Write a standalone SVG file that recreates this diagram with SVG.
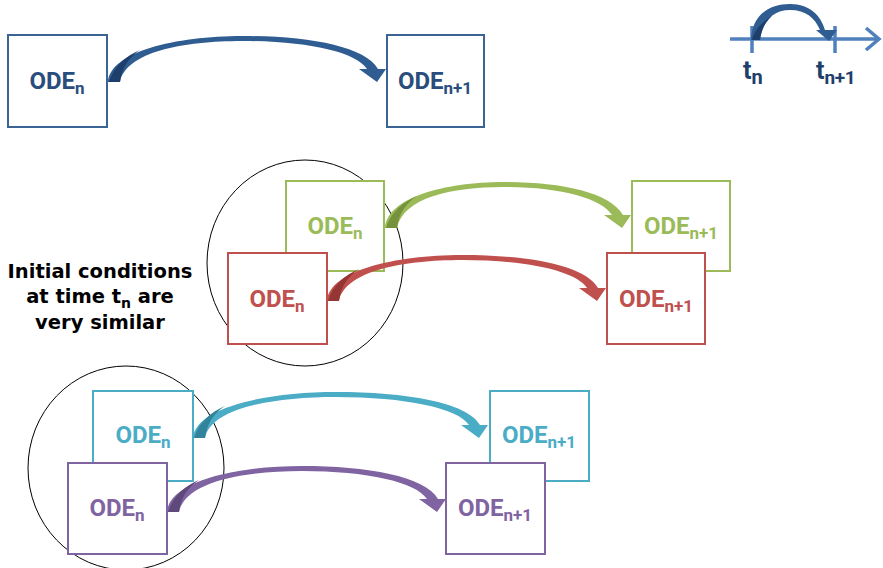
<svg xmlns="http://www.w3.org/2000/svg" width="883" height="568" viewBox="0 0 883 568">
  <style>
    .box { fill: #ffffff; stroke-width: 2; }
    .lbl { font-family: Roboto, "Liberation Sans", sans-serif; font-weight: bold; font-size: 24px; text-anchor: middle; }
    .sub { font-size: 17px; }
    .ring { fill: none; stroke: #000000; stroke-width: 1; }
    .note { font-family: "DejaVu Sans", "Liberation Sans", sans-serif; font-weight: bold; font-size: 19.5px; fill: #000000; text-anchor: middle; }
    .blue { stroke: #3b6394; }
    .blue-t { fill: #294d7c; }
    .green { stroke: #9bbb59; }
    .green-t { fill: #9bbb59; }
    .red { stroke: #c0504d; }
    .red-t { fill: #c0504d; }
    .cyan { stroke: #4bacc6; }
    .cyan-t { fill: #4bacc6; }
    .purple { stroke: #8064a2; }
    .purple-t { fill: #8064a2; }
    .axis { stroke: #4f81bd; stroke-width: 3.5; fill: none; }
    .tick { font-family: Roboto, "Liberation Sans", sans-serif; font-weight: bold; fill: #1f3f6b; }
  </style>

  <!-- time axis icon -->
  <g id="time-axis">
    <line class="axis" x1="730" y1="39" x2="879" y2="39"/>
    <polyline class="axis" points="866,28 879,39 866,50"/>
    <line class="axis" x1="752" y1="26" x2="752" y2="53"/>
    <line class="axis" x1="835" y1="26" x2="835" y2="53"/>
    <path d="M751,40 C752,14 770,4 790,4 C810,4 821,16 825,30 L837,30 L829,41 L816,30 L820,30 C815,18 806,10 790,10 C774,10 763,20 760,40 Z" fill="#2f5c91"/>
    <path d="M752,40 L760,40 C761,30 765,22 772,16 C762,22 754,30 752,40 Z" fill="#1e3f6b"/>
    <text class="tick" x="743" y="79" font-size="25">t<tspan font-size="20" dy="5">n</tspan></text>
    <text class="tick" x="816" y="79" font-size="25">t<tspan font-size="19" dy="5" letter-spacing="-0.3">n+1</tspan></text>
  </g>

  <!-- annotation -->
  <g id="note">
    <text class="note" x="100" y="278">Initial conditions</text>
    <text class="note" x="100" y="303">at time t<tspan font-size="14" dy="5">n</tspan><tspan dy="-5"> are</tspan></text>
    <text class="note" x="100" y="329">very similar</text>
  </g>

  <!-- grouping rings -->
  <g id="rings">
    <ellipse class="ring" cx="305" cy="263" rx="98" ry="103"/>
    <ellipse class="ring" cx="126" cy="468" rx="98" ry="102"/>
  </g>

  <!-- top pair -->
  <g id="ode-n-blue">
    <rect class="box blue" x="8" y="35" width="99" height="92"/>
    <text class="lbl blue-t" x="57" y="89">ODE<tspan class="sub" dy="5">n</tspan></text>
  </g>
  <g id="ode-n1-blue">
    <rect class="box blue" x="387" y="35" width="97" height="92"/>
    <text class="lbl blue-t" x="435" y="89">ODE<tspan class="sub" dy="5">n+1</tspan></text>
  </g>

  <!-- middle pairs -->
  <g id="ode-n-green">
    <rect class="box green" x="286" y="181" width="98" height="90"/>
    <text class="lbl green-t" x="335" y="234">ODE<tspan class="sub" dy="5">n</tspan></text>
  </g>
  <g id="ode-n1-green">
    <rect class="box green" x="632" y="181" width="98" height="90"/>
    <text class="lbl green-t" x="681" y="234">ODE<tspan class="sub" dy="5">n+1</tspan></text>
  </g>
  <g id="ode-n-red">
    <rect class="box red" x="228" y="253" width="99" height="91"/>
    <text class="lbl red-t" x="277" y="307">ODE<tspan class="sub" dy="5">n</tspan></text>
  </g>
  <g id="ode-n1-red">
    <rect class="box red" x="607" y="253" width="98" height="91"/>
    <text class="lbl red-t" x="656" y="307">ODE<tspan class="sub" dy="5">n+1</tspan></text>
  </g>

  <!-- bottom pairs -->
  <g id="ode-n-cyan">
    <rect class="box cyan" x="93" y="391" width="100" height="90"/>
    <text class="lbl cyan-t" x="143" y="443">ODE<tspan class="sub" dy="5">n</tspan></text>
  </g>
  <g id="ode-n1-cyan">
    <rect class="box cyan" x="490" y="391" width="99" height="90"/>
    <text class="lbl cyan-t" x="539" y="443">ODE<tspan class="sub" dy="5">n+1</tspan></text>
  </g>
  <g id="ode-n-purple">
    <rect class="box purple" x="68" y="463" width="99" height="91"/>
    <text class="lbl purple-t" x="117" y="516">ODE<tspan class="sub" dy="5">n</tspan></text>
  </g>
  <g id="ode-n1-purple">
    <rect class="box purple" x="446" y="463" width="99" height="91"/>
    <text class="lbl purple-t" x="495" y="516">ODE<tspan class="sub" dy="5">n+1</tspan></text>
  </g>

  <!-- curved block arrows: origin at the base on the source box, tip at (W,0) -->
  <g id="connectors">
    <g transform="translate(108,82)">
      <path fill="#2f5c91" d="M0,0 C2,-30 67,-46 134.5,-46 C199,-46 257,-36 270,-13 L278,-13 L269,0 L251,-13 L259,-13 C248,-30 199,-41 134.5,-41 C75,-41 18,-30 12,0 Z"/>
      <path fill="#1e3f6b" d="M1,0 L12,0 C14,-14 20,-24 32,-32 C18,-26 6,-16 1,0 Z"/>
    </g>
    <g transform="translate(385,228)">
      <path fill="#9bbb59" d="M0,0 C2,-30 59,-46 118.5,-46 C175,-46 225,-36 238,-13 L246,-13 L237,0 L219,-13 L227,-13 C216,-30 175,-41 118.5,-41 C66,-41 18,-30 12,0 Z"/>
      <path fill="#76923c" d="M1,0 L12,0 C14,-14 20,-24 32,-32 C18,-26 6,-16 1,0 Z"/>
    </g>
    <g transform="translate(327,301)">
      <path fill="#c0504d" d="M0,0 C2,-30 67.5,-46 135,-46 C200,-46 258,-36 271,-13 L279,-13 L270,0 L252,-13 L260,-13 C249,-30 200,-41 135,-41 C76,-41 18,-30 12,0 Z"/>
      <path fill="#943634" d="M1,0 L12,0 C14,-14 20,-24 32,-32 C18,-26 6,-16 1,0 Z"/>
    </g>
    <g transform="translate(193,438)">
      <path fill="#4bacc6" d="M0,0 C2,-30 71.5,-46 143,-46 C212,-46 274,-36 287,-13 L295,-13 L286,0 L268,-13 L276,-13 C265,-30 212,-41 143,-41 C80,-41 18,-30 12,0 Z"/>
      <path fill="#31849b" d="M1,0 L12,0 C14,-14 20,-24 32,-32 C18,-26 6,-16 1,0 Z"/>
    </g>
    <g transform="translate(167,512)">
      <path fill="#8064a2" d="M0,0 C2,-30 67.5,-46 135,-46 C200,-46 258,-36 271,-13 L279,-13 L270,0 L252,-13 L260,-13 C249,-30 200,-41 135,-41 C76,-41 18,-30 12,0 Z"/>
      <path fill="#5f497a" d="M1,0 L12,0 C14,-14 20,-24 32,-32 C18,-26 6,-16 1,0 Z"/>
    </g>
  </g>
</svg>
